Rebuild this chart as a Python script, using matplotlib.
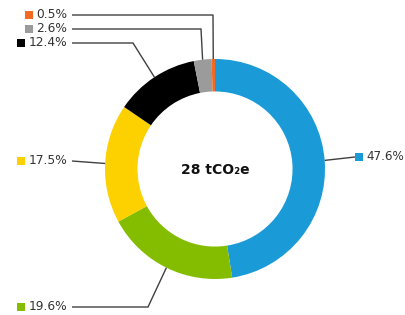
import numpy as np
import matplotlib
matplotlib.use("Agg")
import matplotlib.pyplot as plt

# Data (clockwise from 12 o'clock)
labels = ["47.6%", "19.6%", "17.5%", "12.4%", "2.6%", "0.5%"]
values = [47.6, 19.6, 17.5, 12.4, 2.6, 0.5]
colors = ["#1a9ad7", "#84bd00", "#fdd000", "#000000", "#9b9b9b", "#f26a21"]
center_text = "28 tCO\u2082e"

W, H = 405, 315
fig = plt.figure(figsize=(W / 100, H / 100), dpi=100)
ax = fig.add_axes([0, 0, 1, 1])
ax.set_xlim(0, W)
ax.set_ylim(0, H)
ax.set_aspect("equal")
ax.axis("off")

cx, cy = 215, H - 169
R = 110
ring = 0.295

wedges, _ = ax.pie(values, colors=colors, startangle=90, counterclock=False,
                   radius=R, center=(cx, cy), frame=True,
                   wedgeprops=dict(width=R * ring, linewidth=0))
ax.set_xlim(0, W)
ax.set_ylim(0, H)
ax.axis("off")

ax.text(cx, cy - 1, center_text, ha="center", va="center", fontsize=10,
        fontweight="bold", family=["DejaVu Sans"], color="#111111")

# Layout for labels: (elbow point in pixel coords or None, label y, side)
layout = [
    (None, 157, "right"),
    ((148, 307), 307, "left"),
    (None, 161, "left"),
    ((133, 43), 43, "left"),
    ((201, 29), 29, "left"),
    ((213, 15), 15, "left"),
]

line_col = "#404040"
text_col = "#333333"
fig.canvas.draw()
renderer = fig.canvas.get_renderer()

for w, lab, col, (elbow, ly, side) in zip(wedges, labels, colors, layout):
    mid = (w.theta1 + w.theta2) / 2
    sx = cx + R * np.cos(np.radians(mid))
    sy = cy + R * np.sin(np.radians(mid))
    ly_d = H - ly
    if side == "right":
        ex = 355
        ax.plot([sx, ex], [sy, ly_d], color=line_col, lw=1.0, solid_capstyle="butt")
        ax.plot(359, ly_d, marker="s", ms=5.8, color=col, mec=col, mew=0)
        ax.text(366, ly_d, lab, ha="left", va="center", fontsize=8.6, color=text_col)
    else:
        ex = 72
        xs = [sx]
        ys = [sy]
        if elbow is not None:
            xs.append(elbow[0])
            ys.append(H - elbow[1])
        xs.append(ex)
        ys.append(ly_d)
        ax.plot(xs, ys, color=line_col, lw=1.0, solid_capstyle="butt",
                solid_joinstyle="miter")
        t = ax.text(67, ly_d, lab, ha="right", va="center", fontsize=8.8, color=text_col)
        bb = t.get_window_extent(renderer=renderer)
        ax.plot(bb.x0 - 7, ly_d, marker="s", ms=5.8, color=col, mec=col, mew=0)

fig.savefig("out.png", dpi=100)
